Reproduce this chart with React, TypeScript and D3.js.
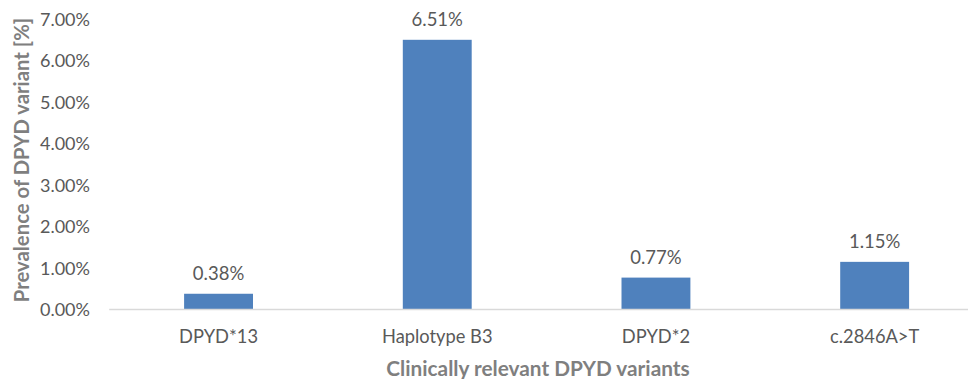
import React from "react";
import * as d3 from "d3";

const categories = ["DPYD*13", "Haplotype B3", "DPYD*2", "c.2846A>T"];
const values = [0.38, 6.51, 0.77, 1.15];
const yTicks = [0, 1, 2, 3, 4, 5, 6, 7];

const W = 968;
const H = 379;

export default function App() {
  const x = d3.scaleBand<string>().domain(categories).range([109.2, 984]).paddingInner(0.685).paddingOuter(0.3425);
  const y = d3.scaleLinear().domain([0, 7]).range([309.5, 19.5]);
  const font = "Lato, 'Open Sans', sans-serif";
  return (
    <svg width={W} height={H} style={{ position: "absolute", left: 0, top: 0, background: "#fff" }}>
      <rect width={W} height={H} fill="#fff" />
      {yTicks.map((t) => (
        <text key={t} x={90} y={y(t)} dy="0.36em" textAnchor="end" fontFamily={font} fontSize={18} fill="#595959">
          {t.toFixed(2)}%
        </text>
      ))}
      {categories.map((c, i) => (
        <g key={c}>
          <rect x={x(c)} y={y(values[i])} width={x.bandwidth()} height={y(0) - y(values[i])} fill="#4f81bd" />
          <text x={(x(c) as number) + x.bandwidth() / 2} y={y(values[i]) - 14} textAnchor="middle" fontFamily={font} fontSize={18.5} fill="#595959">
            {values[i].toFixed(2)}%
          </text>
          <text x={(x(c) as number) + x.bandwidth() / 2} y={343} textAnchor="middle" fontFamily={font} fontSize={18.3} fill="#595959">
            {c}
          </text>
        </g>
      ))}
      <line x1={109.2} x2={984} y1={y(0)} y2={y(0)} stroke="#d9d9d9" strokeWidth={1.5} />
      <text x={538} y={376} textAnchor="middle" fontFamily={font} fontSize={20.8} fontWeight="bold" fill="#7f7f7f">
        Clinically relevant DPYD variants
      </text>
      <text transform={`translate(29,160) rotate(-90)`} textAnchor="middle" fontFamily={font} fontSize={20.3} fontWeight="bold" fill="#7f7f7f">
        Prevalence of DPYD variant [%]
      </text>
    </svg>
  );
}
